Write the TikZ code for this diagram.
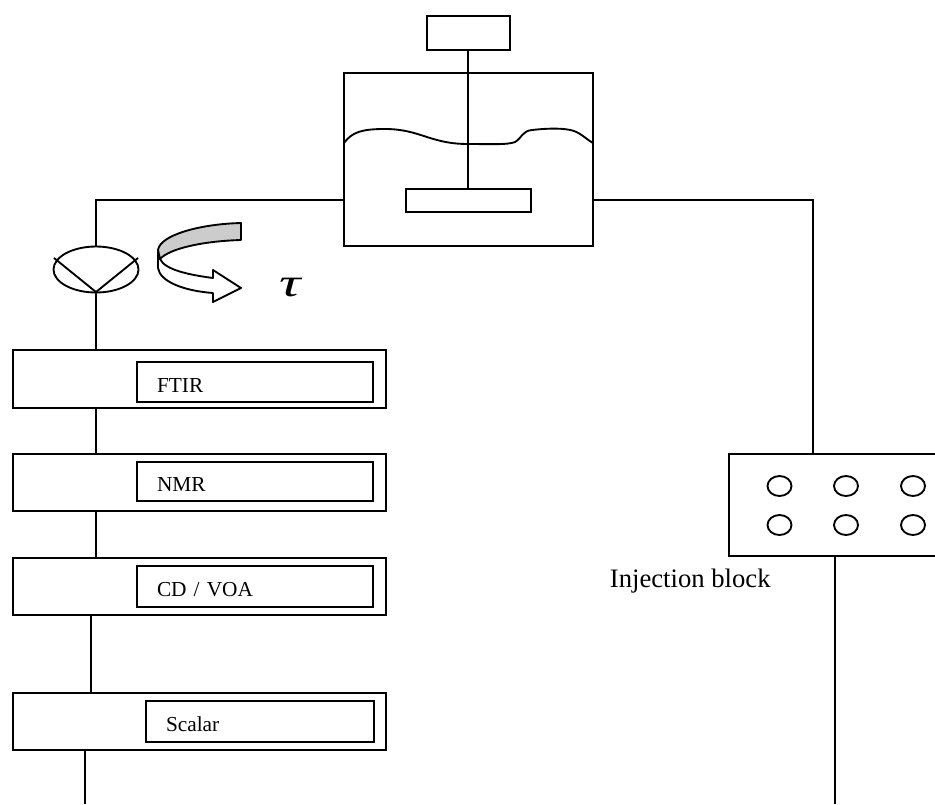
\documentclass[tikz,border=0pt]{standalone}
\usepackage{fontspec}
\setmainfont{Liberation Serif}
\usetikzlibrary{shapes.geometric}
\newdimen\pxu \pxu=0.75pt
\tikzset{
  plainbox/.style={draw,rectangle,inner sep=0pt,outer sep=0pt},
  instr/.style={plainbox,fill=white,font=\fontsize{16}{18}\selectfont,align=left,inner xsep=15pt,
     text height=10.5pt,text depth=0pt},
  hole/.style={draw,ellipse,inner sep=0pt,outer sep=0pt,minimum width=24\pxu,minimum height=20\pxu},
}
\begin{document}
\begin{tikzpicture}[x=0.75pt,y=-0.75pt,line width=1.4pt]
\useasboundingbox (0,0) rectangle (935,804);
\clip (0,0) rectangle (935,804);
% stirred vessel
\node[plainbox,minimum width=83\pxu,minimum height=34\pxu] (motor) at (468.5,33) {};
\node[plainbox,minimum width=249\pxu,minimum height=173\pxu] (tank) at (468.5,159.5) {};
\node[plainbox,minimum width=125\pxu,minimum height=23\pxu] (impeller) at (468.5,200.5) {};
\coordinate (shaft) at (468,0);
\coordinate (level) at (0,200);
\draw (motor.south -| shaft) -- (impeller.north -| shaft);
\draw (tank.west |- 0,143) .. controls (352,132) and (362,129) .. (385,129)
  .. controls (420,129) and (430,144) .. (468,144)
  .. controls (490,144) and (508,145) .. (515,142)
  .. controls (522,138) and (522,131) .. (532,130)
  .. controls (550,128) and (565,128) .. (574,131)
  .. controls (582,134) and (586,139) .. (593,143);
% valve
\node[draw,ellipse,inner sep=0pt,outer sep=0pt,minimum width=85\pxu,minimum height=46\pxu] (valve) at (96,269.5) {};
\coordinate (vtip) at (96,292);
\draw (54,258) -- (vtip) -- (138,258);
\draw (tank.west |- level) -- (valve.north |- level) -- (valve.north);
% rotation arrow
\draw[fill=white,line join=round] (158,250) -- (158,268)
  .. controls (160,282) and (185,291) .. (213,293)
  -- (213,302) -- (241,288) -- (213,270) -- (213,278)
  .. controls (190,275) and (165,270) .. (160,259) -- cycle;
\draw[fill=black!20,line join=round] (241,223) -- (241,240)
  .. controls (205,241) and (170,248) .. (160,259) -- (158,250)
  .. controls (160,235) and (200,224) .. (241,223) -- cycle;
\node[font=\fontsize{30}{34}\selectfont\itshape,inner sep=0pt,xscale=1.5] (tau) at (290,288) {τ};
% instruments
\node[plainbox,minimum width=373\pxu,minimum height=58\pxu] (o1) at (199.5,379) {};
\node[instr,minimum width=236\pxu,minimum height=40\pxu,text width=147pt] (i1) at (255,382) {\raisebox{-2.25pt}{FTIR}};
\node[plainbox,minimum width=373\pxu,minimum height=57\pxu] (o2) at (199.5,482.5) {};
\node[instr,minimum width=236\pxu,minimum height=39\pxu,text width=147pt] (i2) at (255,481.5) {\raisebox{-2.25pt}{NMR}};
\node[plainbox,minimum width=373\pxu,minimum height=57\pxu] (o3) at (199.5,586.5) {};
\node[instr,minimum width=236\pxu,minimum height=41\pxu,text width=147pt] (i3) at (255,586.5) {\raisebox{-2.25pt}{CD / VOA}};
\node[plainbox,minimum width=373\pxu,minimum height=57\pxu] (o4) at (199.5,721.5) {};
\node[instr,minimum width=228\pxu,minimum height=41\pxu,text width=141pt] (i4) at (260,721.5) {\raisebox{-2.25pt}{Scalar}};
\coordinate (c3) at (91,0);
\coordinate (c4) at (85,0);
\coordinate (endL) at (85,804);
\draw (valve.south) -- (o1.north -| valve.south);
\draw (o1.south -| valve.south) -- (o2.north -| valve.south);
\draw (o2.south -| valve.south) -- (o3.north -| valve.south);
\draw (o3.south -| c3) -- (o4.north -| c3);
\draw (o4.south -| c4) -- (endL);
% injection block
\node[plainbox,minimum width=226\pxu,minimum height=102\pxu] (block) at (842,505) {};
\coordinate (cin) at (813,0);
\coordinate (cout) at (835,0);
\coordinate (endR) at (835,804);
\draw (tank.east |- level) -- (cin |- level) -- (block.north -| cin);
\draw (block.south -| cout) -- (endR);
\foreach \n/\cx/\cy in {a/779.5/486,b/846/486,c/913/486,d/779.5/525,e/846/525,f/913/525}
  \node[hole] (h\n) at (\cx,\cy) {};
\node[anchor=base west,inner sep=0pt,font=\fontsize{20}{24}\selectfont] (blocklabel) at (609,587) {Injection block};
\end{tikzpicture}
\end{document}
